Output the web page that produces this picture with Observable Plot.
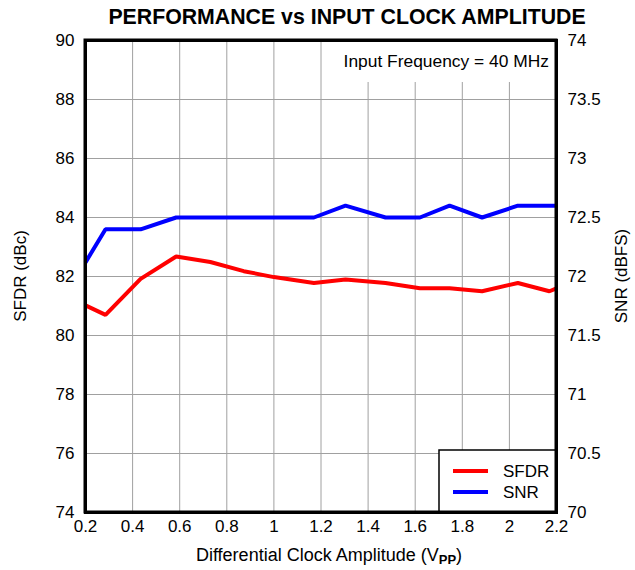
<!DOCTYPE html>
<html>
<head>
<meta charset="utf-8">
<script src="https://cdn.jsdelivr.net/npm/d3@7"></script>
<script src="https://cdn.jsdelivr.net/npm/@observablehq/plot@0.6"></script>
<style>
  html, body { margin: 0; padding: 0; background: #fff; }
  #chart { position: relative; width: 635px; height: 570px; font-family: "Liberation Sans", Arial, sans-serif; }
</style>
</head>
<body>
<div id="chart"></div>
<script>
const title = "PERFORMANCE vs INPUT CLOCK AMPLITUDE";
const xLabel = "Differential Clock Amplitude (V";
const xLabelSub = "PP";
const yLeftLabel = "SFDR (dBc)";
const yRightLabel = "SNR (dBFS)";
const annotation = "Input Frequency = 40 MHz";

const amplitude = [0.2, 0.285, 0.434, 0.585, 0.73, 0.872, 1.0, 1.17, 1.304, 1.474, 1.62, 1.746, 1.884, 2.036, 2.17, 2.2];
const sfdr =      [81.02, 80.7, 81.92, 82.68, 82.49, 82.18, 81.98, 81.78, 81.9, 81.78, 81.6, 81.6, 81.5, 81.78, 81.5, 81.6];
const snr =       [72.12, 72.4, 72.4, 72.5, 72.5, 72.5, 72.5, 72.5, 72.6, 72.5, 72.5, 72.6, 72.5, 72.6, 72.6, 72.6];

const xTicks = [0.2, 0.4, 0.6, 0.8, 1.0, 1.2, 1.4, 1.6, 1.8, 2.0, 2.2];
const yLeftTicks = [74, 76, 78, 80, 82, 84, 86, 88, 90];
const yRightTickLabels = ["70", "70.5", "71", "71.5", "72", "72.5", "73", "73.5", "74"];

const seriesNames = ["SFDR", "SNR"];
const seriesColors = ["#ff0000", "#0000ff"];

// SNR (70..74) mapped onto SFDR scale (74..90)
const snrToLeft = v => 74 + (v - 70) * 4;

const rows = [];
amplitude.forEach((a, i) => {
  rows.push({x: a, y: sfdr[i], s: "SFDR"});
  rows.push({x: a, y: snrToLeft(snr[i]), s: "SNR"});
});

const W = 635, H = 570, mL = 85, mR = 79, mT = 40, mB = 58;

const plot = Plot.plot({
  width: W, height: H,
  marginLeft: mL, marginRight: mR, marginTop: mT, marginBottom: mB,
  style: {fontFamily: '"Liberation Sans", Arial, sans-serif', fontSize: "17px", color: "black", background: "white"},
  x: {domain: [0.2, 2.2]},
  y: {domain: [74, 90]},
  color: {domain: seriesNames, range: seriesColors},
  marks: [
    Plot.gridX(xTicks, {stroke: "#a0a0a0", strokeOpacity: 1, strokeWidth: 1}),
    Plot.gridY(yLeftTicks, {stroke: "#a0a0a0", strokeOpacity: 1, strokeWidth: 1}),
    Plot.axisX(xTicks, {tickSize: 0, tickPadding: 7, label: null, fontSize: 17, tickFormat: d => `${d}`}),
    Plot.axisY(yLeftTicks, {anchor: "left", tickSize: 0, tickPadding: 11, label: null, fontSize: 17}),
    Plot.axisY(yLeftTicks, {anchor: "right", tickSize: 0, tickPadding: 11, label: null, fontSize: 17,
      tickFormat: d => yRightTickLabels[yLeftTicks.indexOf(d)]}),
    Plot.line(rows, {x: "x", y: "y", z: "s", stroke: "s", strokeWidth: 4, strokeLinejoin: "miter", strokeLinecap: "butt"}),
    Plot.frame({stroke: "black", strokeWidth: 3})
  ]
});

document.getElementById("chart").appendChild(plot);

const svg = d3.select(plot);
const pLeft = mL, pRight = W - mR, pTop = mT, pBottom = H - mB;

// annotation box (white background hides grid)
const firstLine = plot.querySelector('g[aria-label="line"]');
const ann = svg.insert("g", () => firstLine);
ann.append("rect").attr("x", 323).attr("y", pTop).attr("width", pRight - 323).attr("height", 42).attr("fill", "white");
svg.append("text").attr("x", pRight - 7).attr("y", pTop + 27).attr("text-anchor", "end")
  .attr("font-size", 17.4).attr("fill", "black").text(annotation);

// legend
const lg = svg.append("g");
lg.append("rect").attr("x", 439).attr("y", 450).attr("width", pRight - 439).attr("height", pBottom - 450)
  .attr("fill", "white").attr("stroke", "black").attr("stroke-width", 1.5);
seriesNames.forEach((n, i) => {
  const yy = 471 + i * 21;
  lg.append("line").attr("x1", 453).attr("x2", 488).attr("y1", yy).attr("y2", yy)
    .attr("stroke", seriesColors[i]).attr("stroke-width", 4);
  lg.append("text").attr("x", 503).attr("y", yy + 6).attr("text-anchor", "start")
    .attr("font-size", 17).attr("fill", "black").text(n);
});
// redraw frame on top
svg.append("rect").attr("x", pLeft).attr("y", pTop).attr("width", pRight - pLeft).attr("height", pBottom - pTop)
  .attr("fill", "none").attr("stroke", "black").attr("stroke-width", 3);

// title
svg.append("text").attr("x", 347).attr("y", 24).attr("text-anchor", "middle")
  .attr("font-size", 21.3).attr("font-weight", "bold").attr("fill", "black").text(title);

// x label
const xl = svg.append("text").attr("x", 329).attr("y", 561).attr("text-anchor", "middle")
  .attr("font-size", 18).attr("fill", "black");
xl.append("tspan").text(xLabel);
xl.append("tspan").attr("font-size", 13).attr("font-weight", "bold").attr("dy", 3).text(xLabelSub);
xl.append("tspan").attr("dy", -3).text(")");

// y labels
svg.append("text").attr("transform", `translate(26,${(pTop + pBottom) / 2}) rotate(-90)`)
  .attr("text-anchor", "middle").attr("font-size", 17).attr("fill", "black").text(yLeftLabel);
svg.append("text").attr("transform", `translate(627,${(pTop + pBottom) / 2}) rotate(-90)`)
  .attr("text-anchor", "middle").attr("font-size", 17).attr("fill", "black").text(yRightLabel);
</script>
</body>
</html>
